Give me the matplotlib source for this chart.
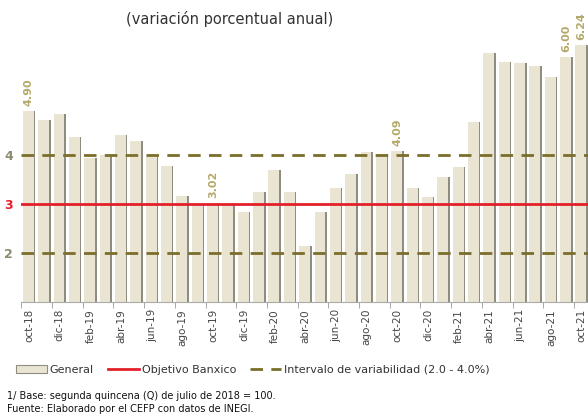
import matplotlib.pyplot as plt
from matplotlib.lines import Line2D
from matplotlib.patches import Patch
import numpy as np

months = ["oct-18", "nov-18", "dic-18", "ene-19", "feb-19", "mar-19", "abr-19", "may-19",
          "jun-19", "jul-19", "ago-19", "sep-19", "oct-19", "nov-19", "dic-19", "ene-20",
          "feb-20", "mar-20", "abr-20", "may-20", "jun-20", "jul-20", "ago-20", "sep-20",
          "oct-20", "nov-20", "dic-20", "ene-21", "feb-21", "mar-21", "abr-21", "may-21",
          "jun-21", "jul-21", "ago-21", "sep-21", "oct-21"]
general = [4.90, 4.72, 4.83, 4.37, 3.94, 4.00, 4.41, 4.28,
           3.95, 3.78, 3.16, 3.00, 3.02, 2.97, 2.83, 3.24,
           3.70, 3.25, 2.15, 2.84, 3.33, 3.62, 4.05, 4.01,
           4.09, 3.33, 3.15, 3.54, 3.76, 4.67, 6.08, 5.89,
           5.88, 5.81, 5.59, 6.00, 6.24]
labeled = ["oct-18", "oct-19", "oct-20", "sep-21", "oct-21"]
objetivo = 3.0
intervalo = [2.0, 4.0]

bar_color = "#e9e5d2"
edge_color = "#8f8c80"
red = "#e3202a"
olive = "#7a6e2a"
label_color = "#b5aa6a"

fig = plt.figure(figsize=(5.88, 4.16), dpi=100)
ax = fig.add_axes([21.3 / 588, 1 - 302 / 416, 568 / 588, 302 / 416])

x = np.arange(len(months))
ax.bar(x - 0.04, general, width=0.72, color=bar_color, zorder=2)
# darker right side of each bar (3d look)
ax.bar(x + 0.36, general, width=0.1, color=edge_color, zorder=2)

ax.axhline(objetivo, color=red, lw=2, zorder=3)
for v in intervalo:
    ax.axhline(v, color=olive, lw=2, ls=(0, (4.5, 3)), zorder=3)

for i, m in enumerate(months):
    if m in labeled:
        ax.text(i, general[i] + 0.1, f"{general[i]:.2f}", rotation=90, ha="center", va="bottom",
                fontsize=8, fontweight="bold", color=label_color, zorder=4)

ax.set_xlim(-0.5, len(months) - 0.5)
ax.set_ylim(1, 7.16)
ax.set_xticks(x[::2])
ax.set_xticklabels(months[::2], rotation=90, fontsize=7.5, color="#444444")
ax.set_xticks(x[::2] - 0.5, minor=True)
ax.tick_params(axis="x", which="major", length=0, pad=5)
ax.tick_params(axis="x", which="minor", length=4, color="#999999")
ax.set_yticks([2, 3, 4])
ax.set_yticklabels(["2", "3", "4"], fontsize=9, fontweight="bold")
ax.tick_params(axis="y", length=0, pad=6)
for t, c in zip(ax.get_yticklabels(), ["#8c8a70", red, "#8c8a70"]):
    t.set_color(c)
for s in ["top", "right", "left"]:
    ax.spines[s].set_visible(False)
ax.spines["bottom"].set_color("#aaaaaa")

fig.text(0.39, 0.955, "(variación porcentual anual)", ha="center", va="center",
         fontsize=10.5, color="#333333")

handles = [Patch(facecolor=bar_color, edgecolor=edge_color, lw=0.8),
           Line2D([], [], color=red, lw=2),
           Line2D([], [], color=olive, lw=2, ls=(0, (4.5, 3)))]
fig.legend(handles, ["General", "Objetivo Banxico", "Intervalo de variabilidad (2.0 - 4.0%)"],
           loc="center", bbox_to_anchor=(0.43, 1 - 370 / 416), ncol=3, frameon=False,
           fontsize=8, handlelength=2.8, handletextpad=0.2, columnspacing=1.3,
           labelcolor="#333333")

fig.text(0.012, 1 - 396 / 416, "1/ Base: segunda quincena (Q) de julio de 2018 = 100.",
         fontsize=7, va="center", color="#111111")
fig.text(0.012, 1 - 409 / 416, "Fuente: Elaborado por el CEFP con datos de INEGI.",
         fontsize=7, va="center", color="#111111")

fig.savefig("out.png", dpi=100)
